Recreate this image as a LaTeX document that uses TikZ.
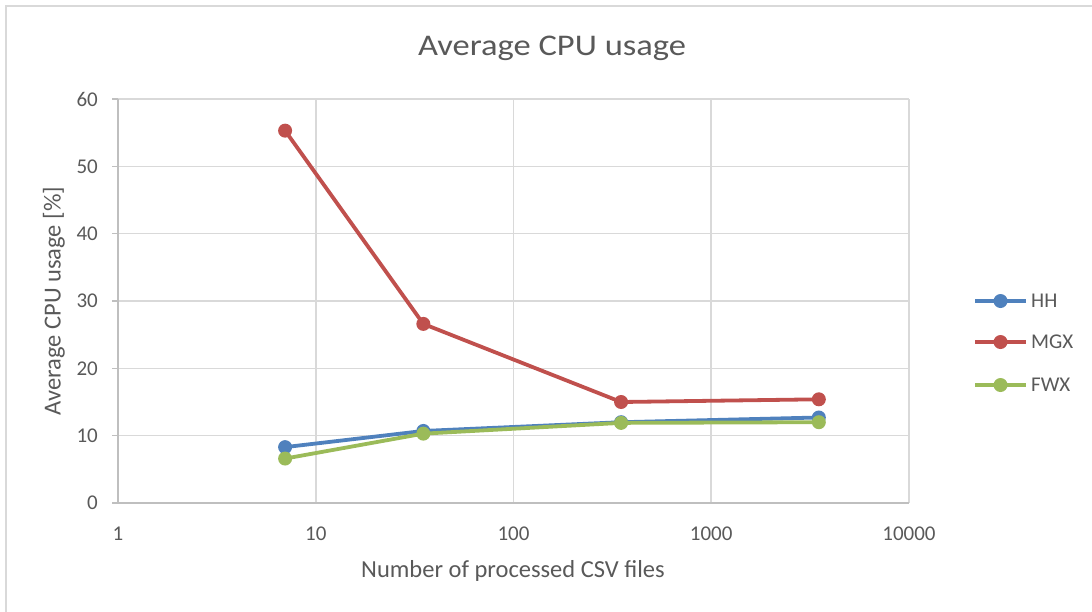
\documentclass[tikz,border=0pt]{standalone}
\usepackage{fontspec}
\setmainfont{Carlito}
\usepackage{tikz}
\usetikzlibrary{positioning,calc}

\definecolor{txtgray}{HTML}{595959}
\definecolor{gridgray}{HTML}{D9D9D9}
\definecolor{axisgray}{HTML}{BFBFBF}
\definecolor{hhblue}{HTML}{4F81BD}
\definecolor{mgxred}{HTML}{C0504D}
\definecolor{fwxgreen}{HTML}{9BBB59}

\begin{document}
\begin{tikzpicture}[x=1pt, y=-1pt,
    declare function={px(\v)=118+197.75*log10(\v); py(\v)=503-6.7333*\v;},
    grid/.style={draw=gridgray, line width=1.5pt},
    axis/.style={draw=axisgray, line width=1.5pt},
    ticklabel/.style={text=txtgray, font=\fontsize{21}{25}\selectfont, inner sep=0pt},
    axistitle/.style={text=txtgray, font=\fontsize{24.5}{29}\selectfont, inner sep=0pt},
    series/.style={line width=3.8pt, line join=round, line cap=round},
    dot/.style={circle, fill, inner sep=0pt, minimum size=14pt}]
    \useasboundingbox (0,0) rectangle (1092,611);
    \draw[draw=gridgray, line width=1.5pt] (6,6) rectangle (1120,640);

    % Title
    \node[text=txtgray, font=\fontsize{30}{34}\selectfont, xscale=1.15, anchor=base, inner sep=0pt] (title) at (552,55) {Average CPU usage};

    % Grid
    \foreach \yv in {10,20,...,60}
        \draw[grid] (118,{py(\yv)}) -- (909,{py(\yv)});
    \foreach \xv in {10,100,1000,10000}
        \draw[grid] ({px(\xv)},99) -- ({px(\xv)},503);

    % Axes and ticks
    \draw[axis] (118,99) -- (118,503);
    \draw[axis] (112,503) -- (909,503);
    \foreach \yv in {0,10,...,60} {
        \draw[axis] (112,{py(\yv)}) -- (118,{py(\yv)});
        \node[ticklabel, anchor=east] (ytick\yv) at (98,{py(\yv)}) {\yv};
    }
    \foreach \xv in {1,10,100,1000,10000}
        \node[ticklabel, anchor=base] (xtick\xv) at ({px(\xv)},540) {\xv};

    % Axis titles
    \node[axistitle, anchor=base] (xtitle) at (513,577) {Number of processed CSV files};
    \node[axistitle, rotate=90, anchor=center] (ytitle) at (54,301) {Average CPU usage [\%]};

    % Data points
    \foreach \n/\xv/\yv in {1/7/8.3, 2/35/10.7, 3/350/12.0, 4/3500/12.7}
        \coordinate (hh\n) at ({px(\xv)},{py(\yv)});
    \foreach \n/\xv/\yv in {1/7/55.3, 2/35/26.6, 3/350/15.0, 4/3500/15.4}
        \coordinate (mgx\n) at ({px(\xv)},{py(\yv)});
    \foreach \n/\xv/\yv in {1/7/6.6, 2/35/10.3, 3/350/11.9, 4/3500/12.0}
        \coordinate (fwx\n) at ({px(\xv)},{py(\yv)});

    % Series
    \draw[series, hhblue] (hh1) -- (hh2) -- (hh3) -- (hh4);
    \foreach \n in {1,...,4} \node[dot, hhblue] at (hh\n) {};
    \draw[series, mgxred] (mgx1) -- (mgx2) -- (mgx3) -- (mgx4);
    \foreach \n in {1,...,4} \node[dot, mgxred] at (mgx\n) {};
    \draw[series, fwxgreen] (fwx1) -- (fwx2) -- (fwx3) -- (fwx4);
    \foreach \n in {1,...,4} \node[dot, fwxgreen] at (fwx\n) {};

    % Legend
    \foreach \name/\col/\yl [count=\i] in {HH/hhblue/301, MGX/mgxred/342, FWX/fwxgreen/385} {
        \coordinate (leg\i a) at (975,\yl);
        \coordinate (leg\i b) at (1026,\yl);
        \draw[series, line cap=butt, \col] (leg\i a) -- (leg\i b);
        \node[dot, \col] (legdot\i) at ($(leg\i a)!0.5!(leg\i b)$) {};
        \node[ticklabel, anchor=west] (legtext\i) at (1031,\yl) {\name};
    }
\end{tikzpicture}
\end{document}
